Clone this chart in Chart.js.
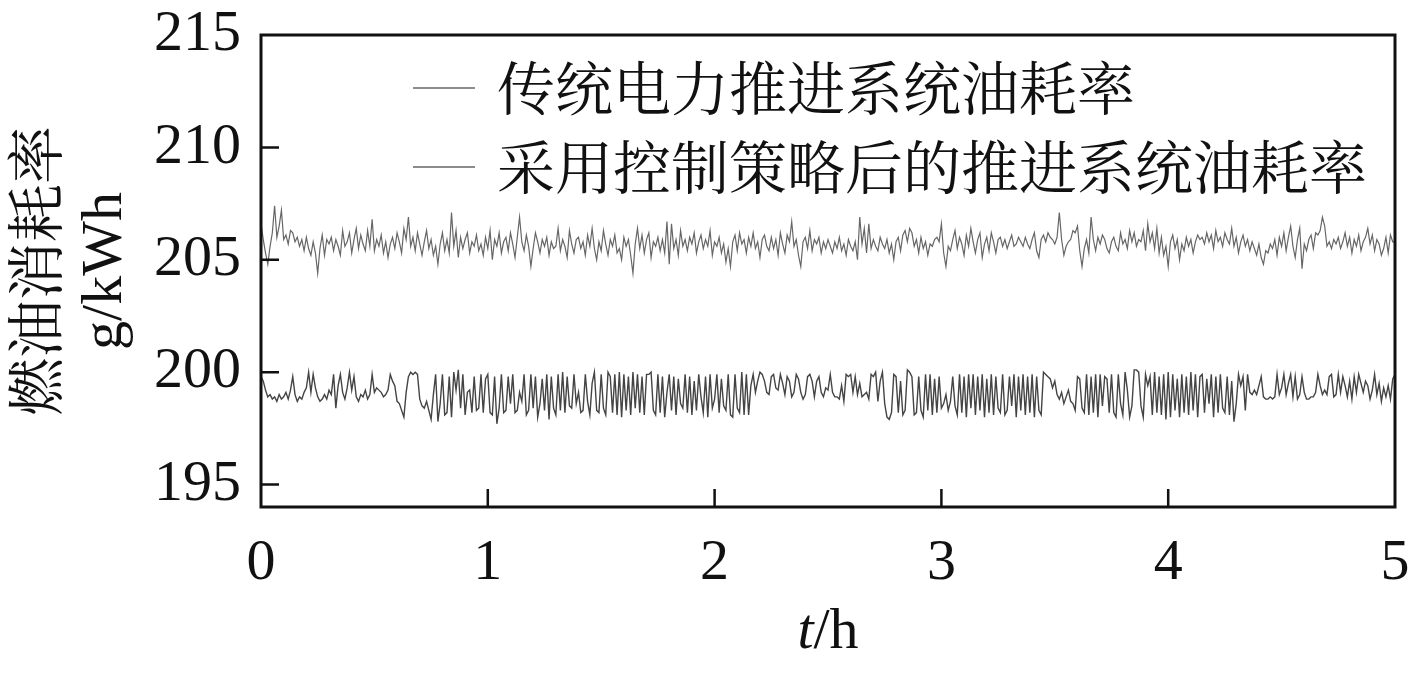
<!DOCTYPE html>
<html><head><meta charset="utf-8">
<script src="https://cdn.jsdelivr.net/npm/chart.js@4.4.0/dist/chart.umd.min.js"></script>
<style>html,body{margin:0;padding:0;background:#fff;overflow:hidden}#wrap{width:1417px;height:673px}</style>
</head><body><div id="wrap"><canvas id="c" width="1417" height="673"></canvas></div>
<script>
const seriesNames = ['传统电力推进系统油耗率', '采用控制策略后的推进系统油耗率'];
const xTickValues = [0, 1, 2, 3, 4, 5];
const yTickValues = [195, 200, 205, 210, 215];
const yTitleLines = ['燃油消耗率', 'g/kWh'];
const tStep = 0.01; // h between samples

const traditional = [
206.6,205.9,205.3,204.8,205.6,206.2,207.4,206.0,206.5,207.2,205.9,206.1,205.7,206.3,206.2,205.8,206.0,205.6,205.9,205.4,206.0,205.5,205.2,205.8,205.3,
204.4,205.5,206.1,205.2,205.9,205.7,206.0,205.4,205.9,205.6,205.2,206.3,205.6,205.8,206.2,205.3,205.9,206.4,205.5,206.1,205.7,205.4,206.3,205.6,206.8,
205.4,205.9,205.6,206.1,205.3,205.8,205.1,205.7,206.0,205.5,206.2,205.8,205.3,206.4,205.9,206.9,205.6,206.0,205.4,206.2,205.7,205.2,205.8,206.3,205.5,
205.9,205.2,205.6,204.8,205.7,206.2,205.4,205.9,205.3,207.1,205.6,206.3,205.1,206.0,205.5,205.9,206.2,205.3,205.8,205.6,206.1,205.4,205.7,205.2,206.0,
205.5,206.3,205.0,205.9,205.6,206.2,205.3,205.8,206.0,205.4,206.2,205.7,205.1,206.0,206.9,205.8,205.4,206.1,205.6,204.7,205.5,206.2,205.8,205.3,205.9,
205.6,206.0,205.2,205.8,205.5,205.6,206.4,205.4,205.9,205.6,205.1,206.3,205.7,205.3,205.9,206.0,205.5,205.8,205.2,206.1,205.6,206.4,205.5,205.0,205.8,
205.4,206.3,205.7,205.2,205.9,205.6,206.1,205.3,205.5,205.0,206.0,205.6,205.9,205.2,204.4,205.7,206.4,205.5,206.1,205.3,205.9,206.2,205.1,205.8,205.6,
206.0,205.4,205.9,205.3,206.7,204.8,206.6,205.5,205.9,205.2,206.3,205.6,205.9,205.4,206.0,205.7,206.2,205.3,205.8,206.1,205.5,205.9,205.6,206.3,205.2,
205.8,205.6,206.0,205.3,205.7,204.9,205.5,204.7,205.8,206.1,205.4,206.2,205.7,205.9,205.3,206.0,205.6,206.2,205.5,205.8,205.1,205.9,206.1,205.6,205.4,
206.0,205.5,205.9,205.2,206.2,205.7,205.3,206.1,205.8,206.7,205.6,205.9,205.2,204.7,205.8,206.0,205.5,206.3,205.4,205.9,205.7,206.0,205.3,205.8,205.5,
205.9,205.6,205.3,205.8,205.5,206.0,205.4,205.7,205.2,205.9,205.6,205.4,205.8,205.0,206.9,205.7,206.4,205.3,206.6,205.5,205.9,205.6,205.4,206.0,205.7,
205.5,205.9,205.3,205.7,205.0,205.8,206.0,205.4,206.1,206.3,205.8,206.4,206.2,205.6,205.9,205.3,206.0,205.5,205.8,205.2,205.7,205.6,205.9,206.0,205.8,
206.6,205.3,204.7,205.6,205.4,205.9,206.3,205.5,206.0,205.7,205.2,206.1,205.6,206.4,205.8,205.3,205.9,206.2,205.1,205.7,206.0,205.4,206.2,205.8,205.3,
205.9,206.0,205.6,205.9,205.5,205.8,206.1,205.6,205.7,206.0,205.8,205.6,206.0,205.7,205.5,205.9,206.2,205.4,205.1,205.9,206.1,205.8,206.2,206.0,205.9,
205.7,206.0,207.1,205.9,205.2,205.6,205.8,205.9,206.3,206.2,206.5,205.4,204.7,205.5,205.9,205.3,206.9,205.9,205.4,206.0,205.7,206.1,205.9,205.5,205.3,
205.8,206.0,205.6,205.4,206.2,205.7,205.9,205.5,206.3,205.8,206.2,205.6,205.9,205.8,206.3,205.4,206.6,205.8,206.2,205.5,206.4,205.3,206.0,205.2,205.6,
204.7,205.8,206.1,205.5,205.9,205.0,205.7,205.4,206.0,205.6,205.9,205.3,205.8,206.1,205.9,206.0,205.7,206.2,205.8,206.1,205.5,206.3,205.8,206.0,205.6,
206.2,205.9,205.7,206.4,205.6,206.0,205.3,205.8,206.1,205.6,205.9,205.4,205.8,205.5,205.2,205.7,205.1,204.8,205.4,205.3,205.7,205.5,205.9,205.2,206.0,
205.6,206.2,205.4,206.0,206.5,205.6,205.1,205.9,206.4,204.6,205.7,205.4,205.9,206.1,205.5,206.2,206.1,206.3,206.9,206.5,205.6,205.8,205.5,205.9,205.7,
206.0,205.5,205.8,206.2,205.6,206.0,205.3,205.9,205.6,206.1,205.4,205.8,206.0,206.4,205.7,206.1,205.4,205.9,205.7,205.2,205.5,206.0,205.3,206.1,205.8,
205.8
];

const controlled = [
199.8,199.6,199.2,198.9,199.0,198.8,198.9,198.7,199.0,198.8,198.9,199.1,198.8,199.2,199.8,199.0,198.7,198.9,198.8,199.1,199.3,200.0,199.1,199.9,199.3,
198.9,198.7,198.8,199.0,198.8,199.2,199.0,199.9,198.4,199.4,199.9,199.1,198.8,199.3,200.0,199.2,199.8,198.9,198.7,199.0,198.9,199.2,198.8,199.0,199.9,
199.1,199.3,199.2,199.1,198.9,199.0,199.2,199.9,199.6,199.4,198.7,198.6,198.3,198.0,199.1,199.8,200.0,199.9,200.0,199.9,198.8,198.5,198.4,198.7,198.3,
197.9,199.0,199.9,197.8,198.6,199.9,198.1,198.2,199.8,198.0,200.0,199.2,200.1,198.4,199.9,198.1,199.1,199.2,198.2,199.8,198.3,198.4,199.9,198.2,199.7,
199.9,198.2,198.1,199.8,197.7,198.4,199.9,198.2,198.3,199.8,198.6,199.9,198.2,198.3,199.1,198.7,199.9,198.1,198.3,199.9,198.4,199.8,198.0,198.6,199.7,
198.3,199.9,197.9,199.8,198.4,198.1,199.9,198.3,200.0,198.2,199.8,198.5,198.4,199.9,198.6,199.1,198.2,198.3,199.9,198.7,198.1,199.5,200.0,198.3,198.2,
199.9,198.4,198.1,200.0,199.8,198.2,199.9,198.1,200.0,198.0,199.9,198.3,199.8,198.1,200.0,198.4,199.9,198.2,199.8,198.1,199.9,199.9,200.0,198.3,198.1,
199.9,198.2,199.8,198.0,199.1,199.9,198.3,199.8,198.1,199.7,198.6,198.4,199.9,198.2,199.8,198.1,199.6,198.3,199.9,198.9,198.2,199.8,198.0,199.9,198.4,
198.8,199.9,198.2,199.7,198.5,198.3,199.9,198.1,198.0,199.9,198.4,198.2,200.0,198.1,199.9,198.1,199.4,199.9,199.1,199.6,200.0,199.9,199.6,199.1,199.0,
199.8,199.9,199.3,199.2,199.9,199.5,199.0,199.8,199.6,198.9,199.1,199.9,199.7,199.1,198.8,199.0,199.8,199.9,199.6,198.9,199.6,199.8,199.1,198.9,199.3,
199.2,199.9,199.1,198.9,198.9,198.8,199.4,198.7,199.9,199.8,199.9,199.1,199.8,199.0,199.5,198.9,199.0,199.1,198.8,199.9,199.8,200.0,198.7,199.6,200.0,
198.6,198.0,197.9,198.2,199.9,199.8,198.2,199.6,198.1,198.3,200.1,200.0,199.8,198.1,198.2,199.8,198.3,198.0,199.9,198.3,199.9,198.1,199.7,198.2,199.8,
198.4,198.6,199.0,198.3,198.7,199.8,198.5,198.1,199.9,198.2,199.8,198.0,199.9,198.4,199.9,198.1,199.8,198.3,199.9,198.0,199.7,198.2,199.9,198.1,199.8,
198.4,198.2,199.9,198.1,198.3,199.8,198.5,199.9,198.0,199.8,198.3,199.9,198.1,199.8,198.2,199.9,198.0,199.8,198.3,198.1,200.0,199.9,199.8,199.7,199.3,
199.6,199.0,198.8,199.1,198.6,198.9,199.2,198.7,198.6,198.3,199.8,199.7,198.4,198.2,199.9,198.1,199.8,198.2,199.9,198.0,199.9,198.5,199.8,199.7,198.2,
199.9,198.2,198.0,199.9,198.6,198.1,200.0,199.2,198.0,198.5,200.1,200.1,200.0,198.5,198.0,199.9,199.4,199.8,198.1,200.0,198.2,199.8,198.1,199.9,197.9,
200.0,198.0,199.9,198.3,199.7,198.0,199.9,198.2,199.8,198.1,200.0,198.3,199.9,198.0,199.8,199.9,198.2,199.7,198.6,199.9,198.0,199.8,198.2,199.9,198.4,
198.2,199.8,198.1,199.6,197.8,198.6,199.9,199.4,199.8,198.3,199.9,199.1,199.0,199.2,199.0,199.4,199.8,198.9,198.8,198.8,198.9,198.8,198.9,199.9,199.0,
199.3,199.9,199.0,199.5,199.9,198.9,199.8,198.8,199.0,199.8,199.1,198.8,198.8,198.9,198.9,199.1,199.9,199.4,199.0,199.2,199.0,199.8,199.9,198.9,199.0,
199.9,199.1,199.8,199.4,198.9,199.6,198.8,199.8,199.1,199.9,199.5,199.1,199.6,199.4,198.8,199.2,199.9,199.0,199.5,198.7,199.3,198.9,199.4,198.8,199.7,
199.9
];

const toPoints = arr => arr.map((v, i) => ({ x: +(i * tStep).toFixed(3), y: v }));

const SERIF = "'Liberation Serif','Times New Roman',serif";
const CJK = "'Noto Serif CJK SC','Noto Sans CJK SC',sans-serif";

const framePlugin = {
  id: 'frame',
  afterDatasetsDraw(chart) {
    const { ctx, chartArea: a, scales } = chart;
    ctx.save();
    ctx.strokeStyle = '#111';
    ctx.lineWidth = 3;
    ctx.strokeRect(a.left, a.top, a.right - a.left, a.bottom - a.top);
    ctx.lineWidth = 2.5;
    ctx.beginPath();
    yTickValues.forEach(v => {
      const y = scales.y.getPixelForValue(v);
      if (y > a.top + 3 && y < a.bottom - 3) { ctx.moveTo(a.left, y); ctx.lineTo(a.left + 18, y); }
    });
    xTickValues.forEach(v => {
      const x = scales.x.getPixelForValue(v);
      if (x > a.left + 3 && x < a.right - 3) { ctx.moveTo(x, a.bottom); ctx.lineTo(x, a.bottom - 18); }
    });
    ctx.stroke();
    // legend
    ctx.font = '58px ' + CJK;
    ctx.textBaseline = 'middle';
    ctx.textAlign = 'left';
    const rows = [88, 167];
    chart.data.datasets.forEach((ds, i) => {
      const y = rows[i];
      ctx.strokeStyle = '#666';
      ctx.lineWidth = 1.3;
      ctx.beginPath(); ctx.moveTo(413, y); ctx.lineTo(475, y); ctx.stroke();
      ctx.fillStyle = '#111';
      ctx.fillText(ds.label, 497, y);
    });
    // x axis title: t/h
    ctx.textBaseline = 'alphabetic';
    const cx = (a.left + a.right) / 2;
    ctx.font = 'italic 58px ' + SERIF;
    const wt = ctx.measureText('t').width;
    ctx.font = '58px ' + SERIF;
    const wr = ctx.measureText('/h').width;
    const x0 = cx - (wt + wr) / 2;
    ctx.font = 'italic 58px ' + SERIF;
    ctx.fillText('t', x0, 648);
    ctx.font = '58px ' + SERIF;
    ctx.fillText('/h', x0 + wt, 648);
    ctx.restore();
  }
};

new Chart(document.getElementById('c'), {
  type: 'line',
  data: {
    datasets: [
      { label: seriesNames[0], data: toPoints(traditional), borderColor: '#666', borderWidth: 1.2, pointRadius: 0, tension: 0, fill: false },
      { label: seriesNames[1], data: toPoints(controlled), borderColor: '#444', borderWidth: 1.4, pointRadius: 0, tension: 0, fill: false }
    ]
  },
  options: {
    responsive: false,
    animation: false,
    devicePixelRatio: 1,
    layout: { padding: { top: 35, right: 22, left: 0, bottom: 0 } },
    plugins: { legend: { display: false }, tooltip: { enabled: false } },
    scales: {
      x: {
        type: 'linear', min: 0, max: 5,
        afterBuildTicks: s => { s.ticks = xTickValues.map(v => ({ value: v })); },
        afterFit: s => { s.height = 166; s.paddingLeft = 0; s.paddingRight = 0; },
        grid: { display: false, drawTicks: false },
        border: { display: false },
        ticks: { color: '#111', font: { family: SERIF, size: 58 }, padding: 22, maxRotation: 0 }
      },
      y: {
        type: 'linear', min: 194, max: 215,
        afterBuildTicks: s => { s.ticks = yTickValues.map(v => ({ value: v })); },
        afterFit: s => { s.width = 261; s.paddingTop = 0; s.paddingBottom = 0; },
        grid: { display: false, drawTicks: false },
        border: { display: false },
        ticks: { color: '#111', font: { family: SERIF, size: 58 }, padding: 20 },
        title: { display: true, text: yTitleLines, color: '#111', font: { family: SERIF + ',' + CJK, size: 58, lineHeight: 1.1 }, padding: { top: 10, bottom: 0 } }
      }
    }
  },
  plugins: [framePlugin]
});
</script>
</body></html>
